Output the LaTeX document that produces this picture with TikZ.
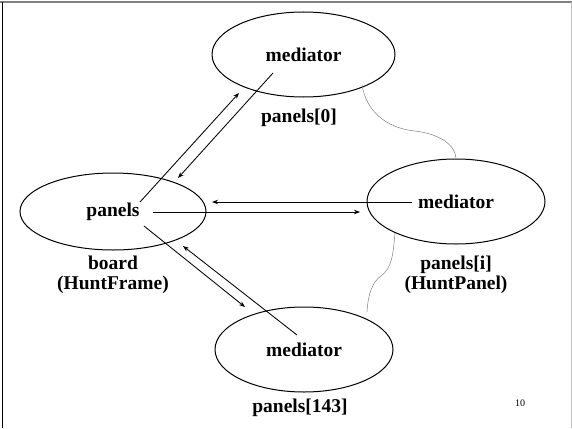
\documentclass[tikz,border=0pt]{standalone}
\usepackage{fontspec}
\setmainfont{Liberation Serif}
\usetikzlibrary{shapes.geometric,arrows.meta}

\begin{document}
\begin{tikzpicture}[x=1pt,y=-1pt]
    \newcommand{\lw}{1pt} % width of the ellipse lines
    \newcommand{\fs}{19.5}  % size of the bold labels

    % set the styles of the objects and messages
    \tikzset{
        obj/.style={
            draw,
            ellipse,
            line width=\lw,
            inner sep=0pt,
            font=\bfseries\fontsize{\fs}{22}\selectfont
            },
        lbl/.style={
            align=center,
            inner sep=0pt,
            font=\bfseries\fontsize{\fs}{20}\selectfont
            },
        msg/.style={
            -{Stealth[length=6pt,width=4.5pt]},
            line width=0.85pt
            },
        link/.style={
            gray,
            line width=0.5pt
            }
    }

    \useasboundingbox (0,0) rectangle (572,428);

    % frame of the slide
    \draw[gray, line width=1.6pt] (0,2) -- (572,2);
    \draw[black, line width=1pt] (2,2) -- (2,428);
    \draw[black!25, line width=1pt] (571,2) -- (571,428);

    % objects
    \node[obj, minimum width=183pt, minimum height=85pt] (top) at (303.5,54.5) {mediator};
    \node[obj, minimum width=186pt, minimum height=77pt] (board) at (113,211.5) {panels};
    \node[obj, minimum width=178pt, minimum height=85pt] (right) at (456,201.5) {mediator};
    \node[obj, minimum width=178pt, minimum height=85pt] (bottom) at (304,349.5) {mediator};

    % names of the objects
    \node[lbl] (top-name) at (299,118) {panels[0]};
    \node[lbl] (board-name) at (113,275) {board\\(HuntFrame)};
    \node[lbl] (right-name) at (456,275) {panels[i]\\(HuntPanel)};
    \node[lbl] (bottom-name) at (300,408) {panels[143]};
    \node[font=\fontsize{10}{12}\selectfont, inner sep=0pt] (page) at (520,403) {10};

    % ends of the messages
    \coordinate (b2t-s) at (140,202);
    \coordinate (b2t-e) at (239,93);
    \coordinate (t2b-s) at (273,73);
    \coordinate (t2b-e) at (178,178);
    \coordinate (r2b-s) at (412,202);
    \coordinate (r2b-e) at (212,202);
    \coordinate (b2r-s) at (153,212);
    \coordinate (b2r-e) at (360,212);
    \coordinate (b2m-s) at (144,226);
    \coordinate (b2m-e) at (245,307);
    \coordinate (m2b-s) at (297,335);
    \coordinate (m2b-e) at (183,246);

    % messages
    \draw[msg] (b2t-s) -- (b2t-e);
    \draw[msg] (t2b-s) -- (t2b-e);
    \draw[msg] (r2b-s) -- (r2b-e);
    \draw[msg] (b2r-s) -- (b2r-e);
    \draw[msg] (b2m-s) -- (b2m-e);
    \draw[msg] (m2b-s) -- (m2b-e);

    % links between the panels
    \coordinate (t-link) at (362,85);
    \coordinate (ru-link) at (456,158);
    \coordinate (rd-link) at (395,233);
    \coordinate (m-link) at (367,312);
    \draw[link] (t-link) .. controls (366,110) and (385,128) .. (415,131)
        .. controls (440,134) and (455,145) .. (ru-link);
    \draw[link] (rd-link) .. controls (393,255) and (392,268) .. (381,276)
        .. controls (372,282) and (368,295) .. (m-link);
\end{tikzpicture}
\end{document}
